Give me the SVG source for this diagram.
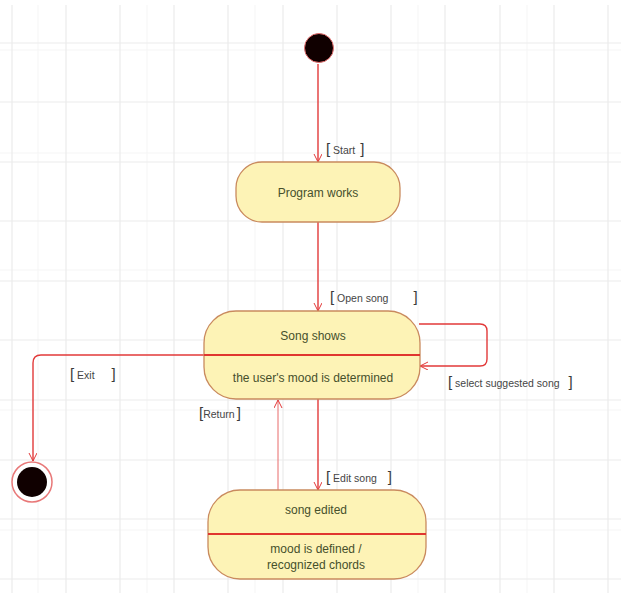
<svg xmlns="http://www.w3.org/2000/svg" width="621" height="593" viewBox="0 0 621 593">
  <defs>
    <style>
      .grid { stroke: #ebebeb; stroke-width: 1.2; }
      .gridf { stroke: #f5f5f5; stroke-width: 1; }
      .state { fill: #fdf3b6; stroke: #c98a5e; stroke-width: 1.3; }
      .divider { stroke: #e0352f; stroke-width: 2; }
      .conn { fill: none; stroke: #e23a3a; stroke-width: 1.4; }
      .conn-thin { fill: none; stroke: #e86a6a; stroke-width: 1; }
      .ntext { font-family: "Liberation Sans", Arial, sans-serif; font-size: 12px; fill: #46502c; text-anchor: middle; }
      .ltext { font-family: "Liberation Sans", Arial, sans-serif; font-size: 10.5px; fill: #454545; }
      .br { font-size: 15px; fill: #3a3a3a; }
    </style>
    <marker id="arr" markerWidth="10" markerHeight="10" refX="8" refY="4" orient="auto" markerUnits="userSpaceOnUse">
      <path d="M0,0 L8,4 L0,8" fill="none" stroke="#e23a3a" stroke-width="1"/>
    </marker>
  </defs>

  <rect width="621" height="593" fill="#ffffff"/>

  <!-- background grid -->
  <g id="grid">
    <g class="gridf">
      <line x1="38" y1="5" x2="38" y2="593"/>
      <line x1="147" y1="5" x2="147" y2="593"/>
      <line x1="255" y1="5" x2="255" y2="593"/>
      <line x1="418" y1="5" x2="418" y2="593"/>
      <line x1="527" y1="5" x2="527" y2="593"/>
      <line x1="0" y1="50" x2="621" y2="50"/>
      <line x1="0" y1="153" x2="621" y2="153"/>
      <line x1="0" y1="270" x2="621" y2="270"/>
      <line x1="0" y1="410" x2="621" y2="410"/>
      <line x1="0" y1="530" x2="621" y2="530"/>
    </g>
    <g class="grid">
      <line x1="12" y1="5" x2="12" y2="593"/>
      <line x1="66" y1="5" x2="66" y2="593"/>
      <line x1="120" y1="5" x2="120" y2="593"/>
      <line x1="174" y1="5" x2="174" y2="593"/>
      <line x1="228" y1="5" x2="228" y2="593"/>
      <line x1="283" y1="5" x2="283" y2="593"/>
      <line x1="337" y1="5" x2="337" y2="593"/>
      <line x1="391" y1="5" x2="391" y2="593"/>
      <line x1="445" y1="5" x2="445" y2="593"/>
      <line x1="500" y1="5" x2="500" y2="593"/>
      <line x1="554" y1="5" x2="554" y2="593"/>
      <line x1="608" y1="5" x2="608" y2="593"/>
      <line x1="0" y1="43" x2="621" y2="43"/>
      <line x1="0" y1="102" x2="621" y2="102"/>
      <line x1="0" y1="162" x2="621" y2="162"/>
      <line x1="0" y1="221" x2="621" y2="221"/>
      <line x1="0" y1="281" x2="621" y2="281"/>
      <line x1="0" y1="340" x2="621" y2="340"/>
      <line x1="0" y1="400" x2="621" y2="400"/>
      <line x1="0" y1="460" x2="621" y2="460"/>
      <line x1="0" y1="519" x2="621" y2="519"/>
      <line x1="0" y1="579" x2="621" y2="579"/>
    </g>
  </g>

  <!-- transitions -->
  <g id="connectors">
    <line class="conn" x1="318" y1="64" x2="318" y2="162" marker-end="url(#arr)"/>
    <line class="conn" x1="318" y1="222" x2="318" y2="311" marker-end="url(#arr)"/>
    <path class="conn" d="M419,324 L480,324 Q487,324 487,331 L487,359 Q487,366 480,366 L420,366" marker-end="url(#arr)"/>
    <path class="conn" d="M204,355 L41,355 Q33,355 33,363 L33,461" marker-end="url(#arr)"/>
    <line class="conn" x1="318" y1="399" x2="318" y2="490" marker-end="url(#arr)"/>
    <line class="conn-thin" x1="278" y1="490" x2="278" y2="400" marker-end="url(#arr)"/>
  </g>

  <!-- transition labels -->
  <g id="labels">
    <text class="ltext" x="326" y="154"><tspan class="br">[</tspan> Start <tspan class="br" dx="2">]</tspan></text>
    <text class="ltext" x="330" y="302"><tspan class="br">[</tspan>  Open song <tspan class="br" dx="22">]</tspan></text>
    <text class="ltext" x="448" y="387"><tspan class="br">[</tspan>  select suggested song <tspan class="br" dx="6">]</tspan></text>
    <text class="ltext" x="70" y="379"><tspan class="br">[</tspan>  Exit <tspan class="br" dx="14">]</tspan></text>
    <text class="ltext" x="199" y="418"><tspan class="br">[</tspan>Return<tspan class="br" dx="2">]</tspan></text>
    <text class="ltext" x="326" y="482"><tspan class="br">[</tspan> Edit song <tspan class="br" dx="8">]</tspan></text>
  </g>

  <!-- initial pseudostate -->
  <g id="initial">
    <circle cx="319" cy="48" r="14.5" fill="#100000" stroke="#e87070" stroke-width="1"/>
  </g>

  <!-- Program works -->
  <g id="program-works">
    <rect class="state" x="236" y="162" width="164" height="60" rx="26" ry="26"/>
    <text class="ntext" x="318" y="197">Program works</text>
  </g>

  <!-- Song shows -->
  <g id="song-shows">
    <rect class="state" x="204" y="311" width="216" height="88" rx="32" ry="32"/>
    <line class="divider" x1="204" y1="355" x2="420" y2="355"/>
    <text class="ntext" x="313" y="340">Song shows</text>
    <text class="ntext" x="313" y="382">the user's mood is determined</text>
  </g>

  <!-- song edited -->
  <g id="song-edited">
    <rect class="state" x="208" y="490" width="218" height="89" rx="32" ry="32"/>
    <line class="divider" x1="208" y1="534" x2="426" y2="534"/>
    <text class="ntext" x="316" y="514">song edited</text>
    <text class="ntext" x="316" y="553">mood is defined /</text>
    <text class="ntext" x="316" y="569">recognized chords</text>
  </g>

  <!-- final state -->
  <g id="final">
    <circle cx="32" cy="482" r="20" fill="#ffffff" stroke="#e87878" stroke-width="1.5"/>
    <circle cx="32" cy="482" r="15" fill="#100000"/>
  </g>
</svg>
